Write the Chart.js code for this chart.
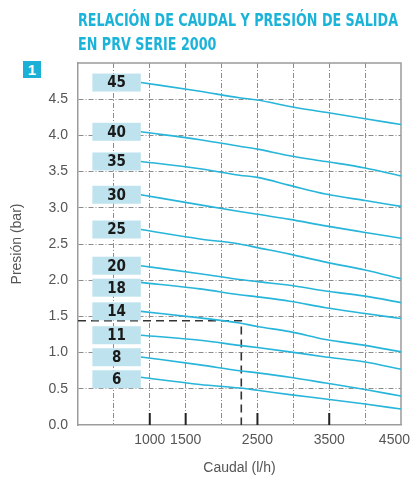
<!DOCTYPE html>
<html>
<head>
<meta charset="utf-8">
<script src="https://cdn.jsdelivr.net/npm/chart.js@4.4.1/dist/chart.umd.min.js"></script>
<style>
  html, body { margin: 0; padding: 0; background: #fff; }
  #wrap { position: relative; width: 412px; height: 477px; }
  #title {
    position: absolute; left: 78px; top: 8px;
    color: #1cb3d9;
    font: bold 18px 'Liberation Sans Narrow', 'DejaVu Sans Condensed', Arial, sans-serif;
    line-height: 24px; white-space: nowrap; transform-origin: left top;
  }
  #title span { display: inline-block; }
  #num {
    position: absolute; left: 23px; top: 61px; width: 18px; height: 17px;
    background: #1cb0d6; color: #fff;
    font: bold 15px 'Liberation Sans', Arial, sans-serif;
    text-align: center; line-height: 17px;
  }
</style>
</head>
<body>
<div id="wrap">
  <canvas id="chart" width="412" height="477"></canvas>
  <div id="title"><span id="t1">RELACIÓN DE CAUDAL Y PRESIÓN DE SALIDA</span><br><span>EN PRV SERIE 2000</span></div>
  <div id="num">1</div>
</div>
<script>
// caudal (l/h) where each curve is read
var flow = [875, 1700, 2250, 2500, 2950, 3450, 4000, 4500];

var setLabels = ['45', '40', '35', '30', '25', '20', '18', '14', '11', '8', '6'];

var p45 = [4.73, 4.61, 4.52, 4.49, 4.40, 4.32, 4.23, 4.15];
var p40 = [4.05, 3.94, 3.85, 3.81, 3.72, 3.64, 3.55, 3.44];
var p35 = [3.64, 3.54, 3.45, 3.42, 3.31, 3.19, 3.10, 3.02];
var p30 = [3.18, 3.04, 2.95, 2.91, 2.84, 2.75, 2.66, 2.58];
var p25 = [2.70, 2.57, 2.50, 2.45, 2.36, 2.25, 2.14, 2.02];
var p20 = [2.20, 2.09, 2.01, 1.98, 1.93, 1.85, 1.78, 1.69];
var p18 = [1.97, 1.88, 1.80, 1.77, 1.71, 1.62, 1.54, 1.47];
var p14 = [1.57, 1.48, 1.41, 1.36, 1.29, 1.18, 1.10, 1.01];
var p11 = [1.24, 1.17, 1.10, 1.07, 1.01, 0.94, 0.87, 0.77];
var p8 = [0.94, 0.83, 0.75, 0.72, 0.66, 0.58, 0.49, 0.40];
var p6 = [0.66, 0.56, 0.51, 0.48, 0.42, 0.36, 0.29, 0.22];

var curves = [p45, p40, p35, p30, p25, p20, p18, p14, p11, p8, p6];

// example reading (dashed)
var refFlow = [0, 2275, 2275];
var refPress = [1.44, 1.44, 0];

var xTickLabels = [1000, 1500, 2500, 3500, 4500];
var xMarks = [1000, 1500, 2500, 3500];
var boxStart = 200; // left end of the label boxes (l/h)

var datasets = curves.map(function (c, i) {
    return {
        label: setLabels[i],
        data: flow.map(function (x, j) { return { x: x, y: c[j] }; }),
        borderColor: '#27b5da',
        borderWidth: 1.6,
        pointRadius: 0,
        cubicInterpolationMode: 'monotone',
        fill: false
    };
});
datasets.push({
    label: 'ref',
    data: refFlow.map(function (x, j) { return { x: x, y: refPress[j] }; }),
    borderColor: '#333',
    borderWidth: 1.6,
    borderDash: [8, 5],
    pointRadius: 0,
    tension: 0,
    fill: false
});

var decor = {
    id: 'decor',
    beforeDatasetsDraw: function (chart) {
        var ctx = chart.ctx, a = chart.chartArea;
        ctx.save();
        ctx.strokeStyle = '#9b9b9b';
        ctx.lineWidth = 1.5;
        ctx.beginPath();
        ctx.moveTo(a.left, a.top);
        ctx.lineTo(a.right, a.top);
        ctx.lineTo(a.right, a.bottom);
        ctx.stroke();
        // short ticks inside bottom axis
        var xs = chart.scales.x;
        ctx.strokeStyle = '#222';
        ctx.lineWidth = 2;
        xMarks.forEach(function (v) {
            var px = xs.getPixelForValue(v);
            ctx.beginPath();
            ctx.moveTo(px, a.bottom);
            ctx.lineTo(px, a.bottom - 12);
            ctx.stroke();
        });
        // x tick labels
        ctx.fillStyle = '#555';
        ctx.font = '14px "Liberation Sans", Arial, sans-serif';
        ctx.textAlign = 'center';
        ctx.textBaseline = 'middle';
        xTickLabels.forEach(function (v) {
            var px = xs.getPixelForValue(v);
            var w = ctx.measureText(String(v)).width;
            px = Math.min(px, chart.width - 2 - w / 2);
            ctx.fillText(String(v), px, a.bottom + 15);
        });
        ctx.restore();
    },
    afterDatasetsDraw: function (chart) {
        var ctx = chart.ctx;
        var xs = chart.scales.x, ys = chart.scales.y;
        var prevBottom = -Infinity;
        ctx.save();
        curves.forEach(function (c, i) {
            var x1 = xs.getPixelForValue(flow[0]);
            var x0 = xs.getPixelForValue(boxStart);
            var yc = ys.getPixelForValue(c[0]);
            // keep a small gap between neighbouring boxes
            yc = Math.max(yc, prevBottom + 4 + 9);
            prevBottom = yc + 9;
            ctx.fillStyle = '#bfe3ee';
            ctx.fillRect(x0, yc - 9, x1 - x0, 18);
            ctx.fillStyle = '#1a1a1a';
            ctx.font = 'bold 15px "Liberation Sans Narrow", "DejaVu Sans Condensed", Arial, sans-serif';
            ctx.textAlign = 'center';
            ctx.textBaseline = 'middle';
            ctx.fillText(setLabels[i], (x0 + x1) / 2, yc + 1);
        });
        ctx.restore();
    }
};

new Chart(document.getElementById('chart'), {
    type: 'line',
    data: { datasets: datasets },
    options: {
        responsive: false,
        animation: false,
        devicePixelRatio: 1,
        layout: { padding: { left: 0, right: 11, top: 63, bottom: 0 } },
        plugins: { legend: { display: false }, tooltip: { enabled: false } },
        scales: {
            x: {
                type: 'linear', min: 0, max: 4500,
                ticks: { display: false, stepSize: 500 },
                grid: {
                    drawTicks: false, lineWidth: 1,
                    color: function (c) { return (c.tick && (c.tick.value === 0 || c.tick.value === 4500)) ? 'rgba(0,0,0,0)' : '#8c8c8c'; }
                },
                border: { color: '#9b9b9b', width: 1.5, dash: [5, 2, 1, 2] },
                title: { display: true, text: 'Caudal (l/h)', color: '#555', font: { size: 14, family: '"Liberation Sans", Arial, sans-serif' }, padding: { top: 0, bottom: 0 } },
                afterFit: function (s) { s.height = 52; }
            },
            y: {
                min: 0, max: 5,
                ticks: {
                    stepSize: 0.5, color: '#555', padding: 10,
                    font: { size: 14, family: '"Liberation Sans", Arial, sans-serif' },
                    callback: function (v) { return v >= 5 ? '' : Number(v).toFixed(1); }
                },
                grid: {
                    drawTicks: false, lineWidth: 1,
                    color: function (c) { return (c.tick && (c.tick.value === 0 || c.tick.value === 5)) ? 'rgba(0,0,0,0)' : '#8c8c8c'; }
                },
                border: { color: '#9b9b9b', width: 1.5, dash: [5, 2, 1, 2] },
                title: { display: true, text: 'Presión (bar)', color: '#555', font: { size: 14, family: '"Liberation Sans", Arial, sans-serif' }, padding: { top: 9, bottom: 0 } },
                afterFit: function (s) { s.width = 78; }
            }
        }
    },
    plugins: [decor]
});

// squeeze the heading to the condensed width of the original
var t1 = document.getElementById('t1');
var sx = 320 / t1.getBoundingClientRect().width;
document.getElementById('title').style.transform = 'scale(' + sx + ', 1)';
</script>
</body>
</html>
